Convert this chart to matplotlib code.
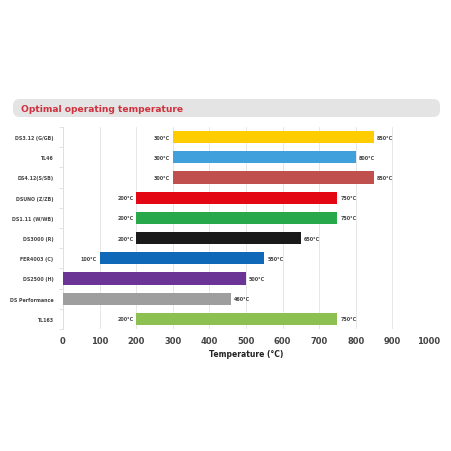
import matplotlib.pyplot as plt
from matplotlib.patches import FancyBboxPatch
import numpy as np

materials = ['DS3.12 (G/GB)', 'TL46', 'DS4.12(S/SB)', 'DSUNO (Z/ZB)', 'DS1.11 (W/WB)',
             'DS3000 (R)', 'FER4003 (C)', 'DS2500 (H)', 'DS Performance', 'TL163']
t_min = [300, 300, 300, 200, 200, 200, 100, 0, 0, 200]
t_max = [850, 800, 850, 750, 750, 650, 550, 500, 460, 750]
show_min = [True, True, True, True, True, True, True, False, False, True]
colors = ['#FFCC00', '#3FA0DC', '#C0504D', '#E30613', '#27A84A',
          '#1A1A1A', '#1069B8', '#6A3594', '#9E9E9E', '#8CC152']

fig = plt.figure(figsize=(4.52, 4.52), dpi=100)
ax = fig.add_axes([63/452, 1 - 330/452, (429 - 63)/452, (330 - 128)/452])

y = np.arange(len(materials))
widths = np.array(t_max) - np.array(t_min)
ax.barh(y, widths, left=t_min, height=0.6, color=colors, zorder=3)

for i in range(len(materials)):
    if show_min[i]:
        ax.text(t_min[i] - 8, y[i], f'{t_min[i]}°C', ha='right', va='center',
                fontsize=3.5, color='#444444', fontweight='semibold')
    ax.text(t_max[i] + 8, y[i], f'{t_max[i]}°C', ha='left', va='center',
            fontsize=3.5, color='#444444', fontweight='semibold')

ax.set_xlim(0, 1000)
ax.set_ylim(len(materials) - 0.5, -0.5)
ax.set_xticks(np.arange(0, 1001, 100))
ax.set_yticks(y)
ax.set_yticklabels(materials, fontsize=3.4, color='#444444', fontweight='semibold')
ax.set_yticks(np.arange(-0.5, len(materials), 1), minor=True)
ax.tick_params(axis='y', which='major', length=0, pad=7)
ax.tick_params(axis='y', which='minor', length=3, color='#dddddd', width=0.6)
ax.tick_params(axis='x', length=0, labelsize=6, labelcolor='#444444', pad=5)
for lab in ax.get_xticklabels():
    lab.set_fontweight('semibold')
ax.grid(True, axis='x', color='#e3e3e3', linewidth=0.6, zorder=0)
for s in ['top', 'right', 'bottom']:
    ax.spines[s].set_visible(False)
ax.spines['left'].set_color('#dddddd')
ax.spines['left'].set_linewidth(0.6)
ax.set_xlabel('Temperature (°C)', fontsize=5.5, fontweight='bold', color='#222222', labelpad=3)

# header bar
header = FancyBboxPatch((13/452, 1 - 118/452), (440 - 13)/452, 18/452,
                        boxstyle='round,pad=0,rounding_size=0.015',
                        transform=fig.transFigure, facecolor='#E4E4E4',
                        edgecolor='none')
fig.patches.append(header)
fig.text(21/452, 1 - 109.5/452, 'Optimal operating temperature', fontsize=6.6,
         fontweight='bold', color='#D0313F', va='center', ha='left')

fig.savefig('out.png', dpi=100, facecolor='white')
